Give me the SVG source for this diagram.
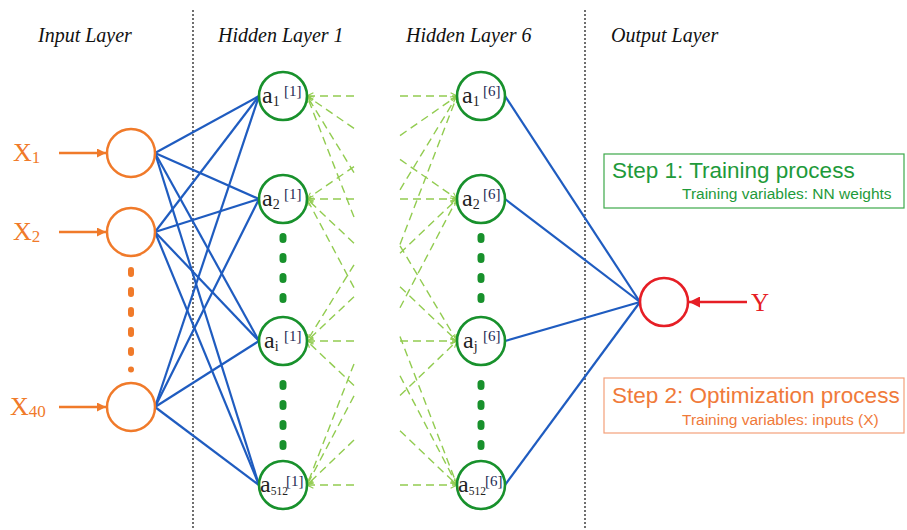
<svg xmlns="http://www.w3.org/2000/svg" width="907" height="530" viewBox="0 0 907 530">
<style>
.hdr{font-family:"Liberation Serif",serif;font-style:italic;font-size:20px;fill:#111}
.sep{stroke:#222;stroke-width:1.3;stroke-dasharray:2 2;fill:none}
.inode{fill:#fff;stroke:#F07A2A;stroke-width:2.5}
.hnode{fill:#fff;stroke:#18912C;stroke-width:2.6}
.onode{fill:#fff;stroke:#E61E25;stroke-width:2.6}
.blue{stroke:#1F5CC0;stroke-width:2.2;fill:none}
.lg{stroke:#92CC50;stroke-width:1.4;stroke-dasharray:8 5;fill:none}
.xl{font-family:"Liberation Serif",serif;font-size:26px;fill:#F07A2A}
.xs{font-size:17px}
.a{font-family:"Liberation Serif",serif;font-size:24px;fill:#222}
.sub{font-size:14px}
.sub5{font-size:11.5px}
.sup{font-family:"Liberation Serif",serif;font-size:15px;fill:#1E2A55}
.gdots{stroke:#18912C;stroke-width:7;stroke-linecap:round;stroke-dasharray:3 17}
.odots{stroke:#F07A2A;stroke-width:6;stroke-linecap:round;stroke-dasharray:4 16}
.s{font-family:"Liberation Sans",Arial,sans-serif}
</style>
<defs>
<marker id="ao" viewBox="0 0 10 10" refX="10" refY="5" markerWidth="9" markerHeight="9" markerUnits="userSpaceOnUse" orient="auto"><path d="M0,0 L10,5 L0,10 z" fill="#F07A2A"/></marker>
<marker id="ar" viewBox="0 0 10 10" refX="10" refY="5" markerWidth="11" markerHeight="11" markerUnits="userSpaceOnUse" orient="auto"><path d="M0,0 L10,5 L0,10 z" fill="#E61E25"/></marker>
<marker id="ag" viewBox="0 0 10 10" refX="9" refY="5" markerWidth="8" markerHeight="8" markerUnits="userSpaceOnUse" orient="auto"><path d="M1,1 L9,5 L1,9" fill="none" stroke="#92CC50" stroke-width="1.4"/></marker>
</defs>
<rect width="907" height="530" fill="#fff"/>

<g id="headers">
<text class="hdr" x="38" y="42">Input Layer</text>
<text class="hdr" x="218" y="42">Hidden Layer 1</text>
<text class="hdr" x="406" y="42">Hidden Layer 6</text>
<text class="hdr" x="611" y="42">Output Layer</text>
</g>
<g id="separators">
<line class="sep" x1="193" y1="10" x2="193" y2="530"/>
<line class="sep" x1="585" y1="10" x2="585" y2="530"/>
</g>

<g id="connectors">
<g id="in-h1">
<line class="blue" x1="155" y1="153" x2="259" y2="96"/>
<line class="blue" x1="155" y1="153" x2="259" y2="199"/>
<line class="blue" x1="155" y1="153" x2="259" y2="341"/>
<line class="blue" x1="155" y1="153" x2="259" y2="485"/>
<line class="blue" x1="155" y1="232" x2="259" y2="96"/>
<line class="blue" x1="155" y1="232" x2="259" y2="199"/>
<line class="blue" x1="155" y1="232" x2="259" y2="341"/>
<line class="blue" x1="155" y1="232" x2="259" y2="485"/>
<line class="blue" x1="155" y1="407" x2="259" y2="96"/>
<line class="blue" x1="155" y1="407" x2="259" y2="199"/>
<line class="blue" x1="155" y1="407" x2="259" y2="341"/>
<line class="blue" x1="155" y1="407" x2="259" y2="485"/>
</g>
<g id="h6-out">
<line class="blue" x1="505" y1="96" x2="640" y2="302"/>
<line class="blue" x1="505" y1="199" x2="640" y2="302"/>
<line class="blue" x1="505" y1="341" x2="640" y2="302"/>
<line class="blue" x1="505" y1="485" x2="640" y2="302"/>
</g>
<g id="h1-side">
<line class="lg" x1="354" y1="96" x2="307" y2="96" marker-end="url(#ag)"/>
<line class="lg" x1="354" y1="128.4" x2="307" y2="96" marker-end="url(#ag)"/>
<line class="lg" x1="354" y1="172.6" x2="307" y2="96" marker-end="url(#ag)"/>
<line class="lg" x1="354" y1="217.1" x2="307" y2="96" marker-end="url(#ag)"/>
<line class="lg" x1="354" y1="166.6" x2="307" y2="199" marker-end="url(#ag)"/>
<line class="lg" x1="354" y1="199" x2="307" y2="199" marker-end="url(#ag)"/>
<line class="lg" x1="354" y1="243.2" x2="307" y2="199" marker-end="url(#ag)"/>
<line class="lg" x1="354" y1="287.7" x2="307" y2="199" marker-end="url(#ag)"/>
<line class="lg" x1="354" y1="264.8" x2="307" y2="341" marker-end="url(#ag)"/>
<line class="lg" x1="354" y1="296.8" x2="307" y2="341" marker-end="url(#ag)"/>
<line class="lg" x1="354" y1="341" x2="307" y2="341" marker-end="url(#ag)"/>
<line class="lg" x1="354" y1="385.5" x2="307" y2="341" marker-end="url(#ag)"/>
<line class="lg" x1="354" y1="363.9" x2="307" y2="485" marker-end="url(#ag)"/>
<line class="lg" x1="354" y1="395.9" x2="307" y2="485" marker-end="url(#ag)"/>
<line class="lg" x1="354" y1="440.1" x2="307" y2="485" marker-end="url(#ag)"/>
<line class="lg" x1="354" y1="485" x2="307" y2="485" marker-end="url(#ag)"/>
</g>
<g id="h6-side">
<line class="lg" x1="400" y1="96" x2="457" y2="96" marker-end="url(#ag)"/>
<line class="lg" x1="400" y1="135.6" x2="457" y2="96" marker-end="url(#ag)"/>
<line class="lg" x1="400" y1="189.8" x2="457" y2="96" marker-end="url(#ag)"/>
<line class="lg" x1="400" y1="244.4" x2="457" y2="96" marker-end="url(#ag)"/>
<line class="lg" x1="400" y1="159.4" x2="457" y2="199" marker-end="url(#ag)"/>
<line class="lg" x1="400" y1="199" x2="457" y2="199" marker-end="url(#ag)"/>
<line class="lg" x1="400" y1="253.2" x2="457" y2="199" marker-end="url(#ag)"/>
<line class="lg" x1="400" y1="307.8" x2="457" y2="199" marker-end="url(#ag)"/>
<line class="lg" x1="400" y1="245.8" x2="457" y2="341" marker-end="url(#ag)"/>
<line class="lg" x1="400" y1="286.8" x2="457" y2="341" marker-end="url(#ag)"/>
<line class="lg" x1="400" y1="341" x2="457" y2="341" marker-end="url(#ag)"/>
<line class="lg" x1="400" y1="395.6" x2="457" y2="341" marker-end="url(#ag)"/>
<line class="lg" x1="400" y1="336.6" x2="457" y2="485" marker-end="url(#ag)"/>
<line class="lg" x1="400" y1="375.8" x2="457" y2="485" marker-end="url(#ag)"/>
<line class="lg" x1="400" y1="430.8" x2="457" y2="485" marker-end="url(#ag)"/>
<line class="lg" x1="400" y1="485" x2="457" y2="485" marker-end="url(#ag)"/>
</g>
<g id="input-arrows">
<line x1="59" y1="153" x2="106" y2="153" stroke="#F07A2A" stroke-width="2.5" marker-end="url(#ao)"/>
<line x1="59" y1="232" x2="106" y2="232" stroke="#F07A2A" stroke-width="2.5" marker-end="url(#ao)"/>
<line x1="59" y1="407" x2="106" y2="407" stroke="#F07A2A" stroke-width="2.5" marker-end="url(#ao)"/>
</g>
<line id="y-arrow" x1="747" y1="302" x2="689" y2="302" stroke="#E61E25" stroke-width="2.5" marker-end="url(#ar)"/>
</g>

<g id="input-layer">
<g id="x1"><circle class="inode" cx="131" cy="153" r="24"/><text class="xl" x="13" y="161">X<tspan class="xs" dy="2">1</tspan></text></g>
<g id="x2"><circle class="inode" cx="131" cy="232" r="24"/><text class="xl" x="13" y="240">X<tspan class="xs" dy="2">2</tspan></text></g>
<g id="x40"><circle class="inode" cx="131" cy="407" r="24"/><text class="xl" x="10" y="415">X<tspan class="xs" dy="2">40</tspan></text></g>
<g id="input-dots"><line class="odots" x1="131" y1="270" x2="131" y2="353"/><circle cx="131" cy="369.5" r="3" fill="#F07A2A"/></g>
</g>

<g id="hidden1">
<g id="h1-a1"><circle class="hnode" cx="283" cy="96" r="24"/><text class="a" x="262" y="103">a<tspan class="sub" dy="3">1</tspan></text><text class="sup" x="284" y="96">[1]</text></g>
<g id="h1-a2"><circle class="hnode" cx="283" cy="199" r="24"/><text class="a" x="262" y="206">a<tspan class="sub" dy="3">2</tspan></text><text class="sup" x="284" y="199">[1]</text></g>
<g id="h1-ai"><circle class="hnode" cx="283" cy="341" r="24"/><text class="a" x="264" y="348">a<tspan class="sub" dy="3">i</tspan></text><text class="sup" x="284" y="341">[1]</text></g>
<g id="h1-a512"><circle class="hnode" cx="283" cy="485" r="24"/><text class="a" x="260" y="492">a<tspan class="sub5" dy="3">512</tspan></text><text class="sup" x="286" y="486">[1]</text></g>
<line class="gdots" x1="283" y1="236.5" x2="283" y2="300"/>
<line class="gdots" x1="283" y1="383.5" x2="283" y2="447"/>
</g>

<g id="hidden6">
<g id="h6-a1"><circle class="hnode" cx="481" cy="96" r="24"/><text class="a" x="462" y="103">a<tspan class="sub" dy="3">1</tspan></text><text class="sup" x="483" y="96">[6]</text></g>
<g id="h6-a2"><circle class="hnode" cx="481" cy="199" r="24"/><text class="a" x="462" y="206">a<tspan class="sub" dy="3">2</tspan></text><text class="sup" x="483" y="199">[6]</text></g>
<g id="h6-aj"><circle class="hnode" cx="481" cy="341" r="24"/><text class="a" x="463" y="348">a<tspan class="sub" dy="3">j</tspan></text><text class="sup" x="483" y="341">[6]</text></g>
<g id="h6-a512"><circle class="hnode" cx="481" cy="485" r="24"/><text class="a" x="458" y="492">a<tspan class="sub5" dy="3">512</tspan></text><text class="sup" x="485" y="486">[6]</text></g>
<line class="gdots" x1="481" y1="236.5" x2="481" y2="300"/>
<line class="gdots" x1="481" y1="383.5" x2="481" y2="447"/>
</g>

<g id="output-layer">
<circle class="onode" cx="664" cy="302" r="24"/>
<text x="751" y="311" font-family="Liberation Serif,serif" font-size="25" fill="#E61E25">Y</text>
</g>

<g id="step1">
<rect x="604" y="154" width="300" height="54" fill="none" stroke="#3DA84A" stroke-width="1.2"/>
<text class="s" x="612" y="178" font-size="22.5" fill="#1E9A3A">Step 1: Training process</text>
<text class="s" x="682" y="199" font-size="15.5" fill="#1E9A3A">Training variables: NN weights</text>
</g>
<g id="step2">
<rect x="604" y="378" width="300" height="55" fill="none" stroke="#F4A07A" stroke-width="1.2"/>
<text class="s" x="612" y="403" font-size="22.5" fill="#F07A3A">Step 2: Optimization process</text>
<text class="s" x="682" y="425" font-size="15.5" fill="#F07A3A">Training variables: inputs (X)</text>
</g>
</svg>
